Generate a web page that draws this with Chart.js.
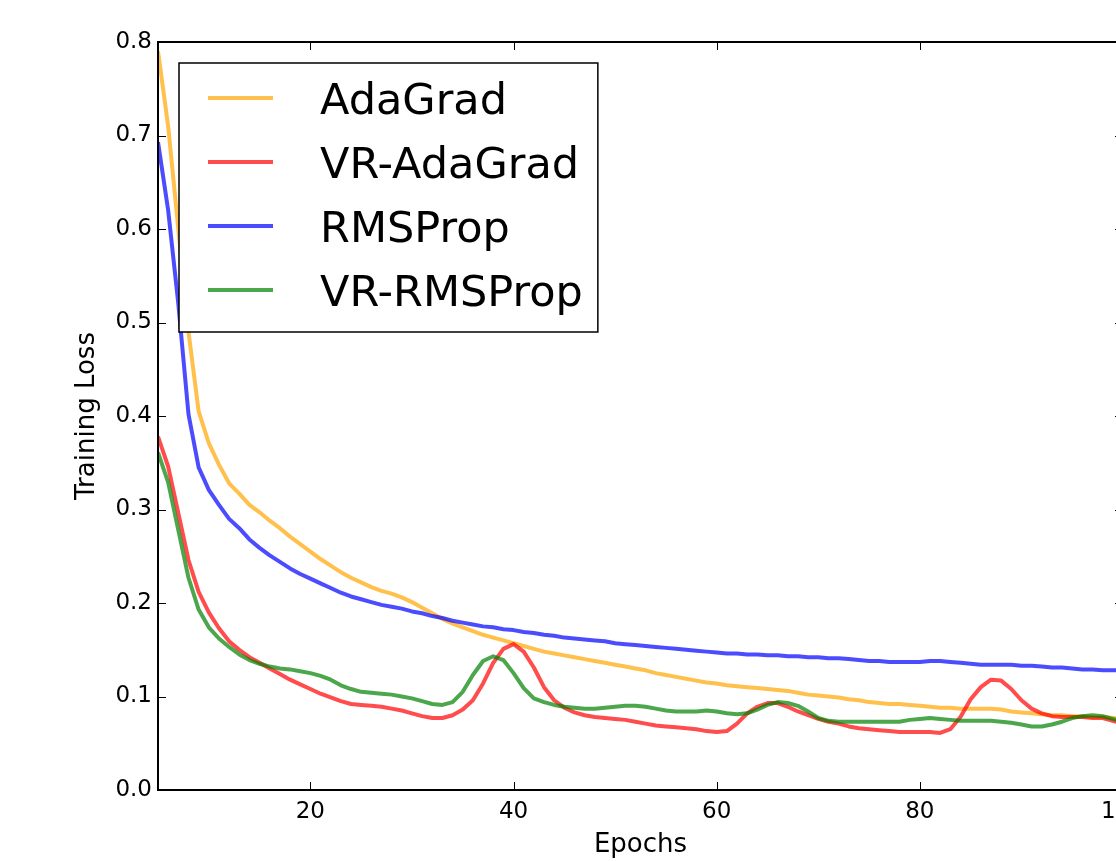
<!DOCTYPE html>
<html>
<head>
<meta charset="utf-8">
<script src="https://cdn.jsdelivr.net/npm/chart.js@4/dist/chart.umd.min.js"></script>
<style>
  html, body { margin: 0; padding: 0; background: #fff; overflow: hidden; }
  #wrap { position: absolute; left: 0; top: 0; width: 1160px; height: 861px; }
</style>
</head>
<body>
<div id="wrap"><canvas id="lossChart" width="1160" height="861"></canvas></div>
<script>
// Dane (strata treningowa w kolejnych epokach)
const epochs = [
  5, 6, 7, 8, 9, 10, 11, 12, 13, 14,
  15, 16, 17, 18, 19, 20, 21, 22, 23, 24,
  25, 26, 27, 28, 29, 30, 31, 32, 33, 34,
  35, 36, 37, 38, 39, 40, 41, 42, 43, 44,
  45, 46, 47, 48, 49, 50, 51, 52, 53, 54,
  55, 56, 57, 58, 59, 60, 61, 62, 63, 64,
  65, 66, 67, 68, 69, 70, 71, 72, 73, 74,
  75, 76, 77, 78, 79, 80, 81, 82, 83, 84,
  85, 86, 87, 88, 89, 90, 91, 92, 93, 94,
  95, 96, 97, 98, 99, 100
];

const adaGrad = [
  0.790, 0.710, 0.600, 0.490, 0.405, 0.371, 0.348, 0.328, 0.317, 0.305,
  0.297, 0.288, 0.280, 0.271, 0.263, 0.255, 0.247, 0.240, 0.233, 0.227,
  0.222, 0.217, 0.213, 0.210, 0.206, 0.201, 0.195, 0.189, 0.183, 0.178,
  0.174, 0.170, 0.166, 0.163, 0.160, 0.157, 0.154, 0.151, 0.148, 0.146,
  0.144, 0.142, 0.140, 0.138, 0.136, 0.134, 0.132, 0.130, 0.128, 0.125,
  0.123, 0.121, 0.119, 0.117, 0.115, 0.114, 0.112, 0.111, 0.110, 0.109,
  0.108, 0.107, 0.106, 0.104, 0.102, 0.101, 0.100, 0.099, 0.097, 0.096,
  0.094, 0.093, 0.092, 0.092, 0.091, 0.090, 0.089, 0.088, 0.088, 0.087,
  0.087, 0.087, 0.087, 0.086, 0.084, 0.083, 0.082, 0.081, 0.080, 0.080,
  0.079, 0.079, 0.078, 0.078, 0.077, 0.076
];

const vrAdaGrad = [
  0.378, 0.346, 0.296, 0.246, 0.212, 0.190, 0.173, 0.159, 0.150, 0.142,
  0.136, 0.130, 0.124, 0.118, 0.113, 0.108, 0.103, 0.099, 0.095, 0.092,
  0.091, 0.090, 0.089, 0.087, 0.085, 0.082, 0.079, 0.077, 0.077, 0.080,
  0.086, 0.096, 0.114, 0.136, 0.151, 0.156, 0.148, 0.131, 0.110, 0.096,
  0.088, 0.083, 0.080, 0.078, 0.077, 0.076, 0.075, 0.073, 0.071, 0.069,
  0.068, 0.067, 0.066, 0.065, 0.063, 0.062, 0.063, 0.071, 0.082, 0.089,
  0.093, 0.093, 0.089, 0.084, 0.080, 0.076, 0.073, 0.071, 0.068, 0.066,
  0.065, 0.064, 0.063, 0.062, 0.062, 0.062, 0.062, 0.061, 0.065, 0.078,
  0.097, 0.110, 0.118, 0.117, 0.108, 0.096, 0.087, 0.082, 0.079, 0.078,
  0.078, 0.078, 0.077, 0.077, 0.074, 0.071
];

const rmsProp = [
  0.693, 0.620, 0.520, 0.402, 0.345, 0.321, 0.305, 0.290, 0.280, 0.268,
  0.259, 0.251, 0.244, 0.237, 0.231, 0.226, 0.221, 0.216, 0.211, 0.207,
  0.204, 0.201, 0.198, 0.196, 0.194, 0.191, 0.189, 0.186, 0.184, 0.181,
  0.179, 0.177, 0.175, 0.174, 0.172, 0.171, 0.169, 0.168, 0.166, 0.165,
  0.163, 0.162, 0.161, 0.160, 0.159, 0.157, 0.156, 0.155, 0.154, 0.153,
  0.152, 0.151, 0.150, 0.149, 0.148, 0.147, 0.146, 0.146, 0.145, 0.145,
  0.144, 0.144, 0.143, 0.143, 0.142, 0.142, 0.141, 0.141, 0.140, 0.139,
  0.138, 0.138, 0.137, 0.137, 0.137, 0.137, 0.138, 0.138, 0.137, 0.136,
  0.135, 0.134, 0.134, 0.134, 0.134, 0.133, 0.133, 0.132, 0.131, 0.131,
  0.130, 0.129, 0.129, 0.128, 0.128, 0.128
];

const vrRmsProp = [
  0.361, 0.329, 0.278, 0.227, 0.193, 0.174, 0.162, 0.153, 0.145, 0.139,
  0.135, 0.132, 0.130, 0.129, 0.127, 0.125, 0.122, 0.118, 0.112, 0.108,
  0.105, 0.104, 0.103, 0.102, 0.100, 0.098, 0.095, 0.092, 0.091, 0.094,
  0.105, 0.123, 0.138, 0.143, 0.139, 0.125, 0.109, 0.098, 0.094, 0.091,
  0.089, 0.088, 0.087, 0.087, 0.088, 0.089, 0.090, 0.090, 0.089, 0.087,
  0.085, 0.084, 0.084, 0.084, 0.085, 0.084, 0.082, 0.081, 0.082, 0.086,
  0.091, 0.094, 0.093, 0.090, 0.084, 0.077, 0.074, 0.073, 0.073, 0.073,
  0.073, 0.073, 0.073, 0.073, 0.075, 0.076, 0.077, 0.076, 0.075, 0.074,
  0.074, 0.074, 0.074, 0.073, 0.072, 0.070, 0.068, 0.068, 0.070, 0.073,
  0.077, 0.079, 0.080, 0.079, 0.076, 0.073
];

const seriesLabels = ['AdaGrad', 'VR-AdaGrad', 'RMSProp', 'VR-RMSProp'];
const xTicks = [20, 40, 60, 80, 100];
const yTicks = [0.0, 0.1, 0.2, 0.3, 0.4, 0.5, 0.6, 0.7, 0.8];

const FONT = 'DejaVu Sans';

// Zamiana tablicy wartości na punkty {x, y}
function toPoints(values) {
  return values.map((v, i) => ({ x: epochs[i], y: v }));
}

// Ramka osi, wewnętrzne kreski podziałki i legenda w stylu matplotlib
const mplDecor = {
  id: 'mplDecor',
  afterDraw(chart) {
    const { ctx, chartArea: a, scales } = chart;
    const tickLen = 8;
    ctx.save();

    // kreski podziałki (do środka, na wszystkich bokach)
    ctx.strokeStyle = '#000';
    ctx.lineWidth = 1;
    ctx.beginPath();
    xTicks.forEach(v => {
      const px = Math.round(scales.x.getPixelForValue(v)) + 0.5;
      ctx.moveTo(px, a.bottom); ctx.lineTo(px, a.bottom - tickLen);
      ctx.moveTo(px, a.top); ctx.lineTo(px, a.top + tickLen);
    });
    yTicks.forEach(v => {
      const py = Math.round(scales.y.getPixelForValue(v)) + 0.5;
      ctx.moveTo(a.left, py); ctx.lineTo(a.left + tickLen, py);
      ctx.moveTo(a.right, py); ctx.lineTo(a.right - tickLen, py);
    });
    ctx.stroke();

    // ramka
    ctx.lineWidth = 2;
    ctx.strokeRect(a.left, a.top, a.right - a.left, a.bottom - a.top);

    // legenda
    const fontSize = 43;
    ctx.font = fontSize + 'px "' + FONT + '"';
    const datasets = chart.data.datasets;
    const textW = Math.max(...datasets.map(d => ctx.measureText(d.label).width));
    const bx = a.left + 21, by = a.top + 21;
    const rowH = 64, firstRow = 35;
    const textX = bx + 141;
    const bw = textX - bx + textW + 15;
    const bh = firstRow + rowH * (datasets.length - 1) + 42;
    ctx.fillStyle = '#fff';
    ctx.fillRect(bx, by, bw, bh);
    ctx.lineWidth = 1.5;
    ctx.strokeStyle = '#000';
    ctx.strokeRect(bx, by, bw, bh);
    datasets.forEach((d, i) => {
      const ly = by + firstRow + i * rowH;
      ctx.strokeStyle = d.borderColor;
      ctx.lineWidth = 4;
      ctx.beginPath();
      ctx.moveTo(bx + 29, ly);
      ctx.lineTo(bx + 94, ly);
      ctx.stroke();
      ctx.fillStyle = '#000';
      ctx.textBaseline = 'alphabetic';
      ctx.textAlign = 'left';
      ctx.fillText(d.label, textX, ly + Math.round(fontSize * 0.365));
    });
    ctx.restore();
  }
};

const colors = [
  'rgba(255, 165, 0, 0.7)',
  'rgba(255, 0, 0, 0.7)',
  'rgba(0, 0, 255, 0.7)',
  'rgba(0, 128, 0, 0.7)'
];
const series = [adaGrad, vrAdaGrad, rmsProp, vrRmsProp];

new Chart(document.getElementById('lossChart').getContext('2d'), {
  type: 'line',
  data: {
    datasets: series.map((vals, i) => ({
      label: seriesLabels[i],
      data: toPoints(vals),
      borderColor: colors[i],
      backgroundColor: colors[i],
      borderWidth: 4,
      borderJoinStyle: 'round',
      pointRadius: 0,
      tension: 0,
      fill: false,
      order: series.length - 1 - i
    }))
  },
  options: {
    responsive: false,
    animation: false,
    layout: { padding: { top: 42, right: 37, bottom: 0, left: 0 } },
    plugins: {
      legend: { display: false },
      tooltip: { enabled: false }
    },
    scales: {
      x: {
        type: 'linear',
        min: 5,
        max: 100,
        grid: { drawOnChartArea: false, drawTicks: false },
        border: { display: false },
        afterBuildTicks: s => { s.ticks = xTicks.map(v => ({ value: v })); },
        afterFit: s => { s.height = 71; },
        ticks: {
          color: '#000',
          padding: 8,
          maxRotation: 0,
          font: { family: FONT, size: 23 }
        },
        title: {
          display: true,
          text: 'Epochs',
          color: '#000',
          padding: { top: 0, bottom: 0 },
          font: { family: FONT, size: 26 }
        }
      },
      y: {
        min: 0,
        max: 0.8,
        grid: { drawOnChartArea: false, drawTicks: false },
        border: { display: false },
        afterBuildTicks: s => { s.ticks = yTicks.map(v => ({ value: v })); },
        afterFit: s => { s.width = 158; },
        ticks: {
          color: '#000',
          padding: 6,
          font: { family: FONT, size: 23 },
          callback: v => Number(v).toFixed(1)
        },
        title: {
          display: true,
          text: 'Training Loss',
          color: '#000',
          padding: { top: 72, bottom: 0 },
          font: { family: FONT, size: 26 }
        }
      }
    }
  },
  plugins: [mplDecor]
});
</script>
</body>
</html>
